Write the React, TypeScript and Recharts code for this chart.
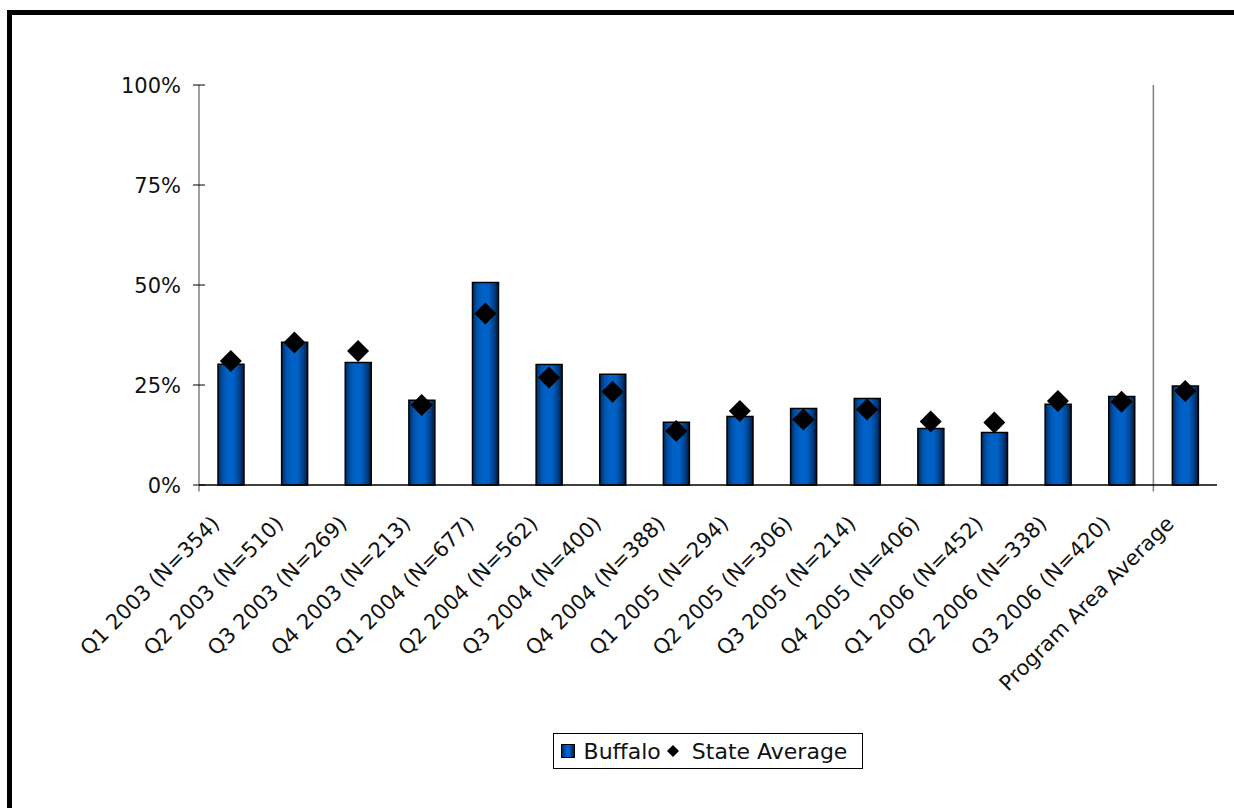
import React from 'react';
import { ComposedChart, Bar, Line, XAxis, YAxis, ReferenceLine, Legend } from 'recharts';

const quarters = [
  'Q1 2003 (N=354)',
  'Q2 2003 (N=510)',
  'Q3 2003 (N=269)',
  'Q4 2003 (N=213)',
  'Q1 2004 (N=677)',
  'Q2 2004 (N=562)',
  'Q3 2004 (N=400)',
  'Q4 2004 (N=388)',
  'Q1 2005 (N=294)',
  'Q2 2005 (N=306)',
  'Q3 2005 (N=214)',
  'Q4 2005 (N=406)',
  'Q1 2006 (N=452)',
  'Q2 2006 (N=338)',
  'Q3 2006 (N=420)',
  'Program Area Average',
];

const buffalo = [0.302, 0.357, 0.306, 0.212, 0.506, 0.301, 0.277, 0.157, 0.171, 0.191, 0.216, 0.141, 0.131, 0.202, 0.221, 0.2475];
const stateAverage = [0.31, 0.356, 0.335, 0.2, 0.429, 0.269, 0.233, 0.135, 0.185, 0.164, 0.189, 0.159, 0.156, 0.21, 0.208, 0.235];

const yTicks = [0, 0.25, 0.5, 0.75, 1];

const data = quarters.map((q, i) => ({ name: q, buffalo: buffalo[i], state: stateAverage[i] }));

const FONT = '"DejaVu Sans", Verdana, sans-serif';

function XTick(props: any) {
  const { x, y, payload } = props;
  return (
    <g transform={`translate(${x - 10},${y + 40})`}>
      <text x={0} y={0} textAnchor="end" transform="rotate(-45)" fontSize={21} fontFamily={FONT} fill="#111">
        {payload.value}
      </text>
    </g>
  );
}

function YTick(props: any) {
  const { x, y, payload } = props;
  return (
    <g>
      <line x1={x - 6} x2={x + 6} y1={y} y2={y} stroke="#000" strokeWidth={1} />
      <text x={x - 18} y={y + 8} textAnchor="end" fontSize={21} fontFamily={FONT} fill="#111">
        {Math.round(payload.value * 100)}%
      </text>
    </g>
  );
}

function Diamond(props: any) {
  const { cx, cy } = props;
  if (cx == null || cy == null) return null;
  const r = 11;
  return <path d={`M${cx},${cy - r}L${cx + r},${cy}L${cx},${cy + r}L${cx - r},${cy}Z`} fill="#000" />;
}

function LegendBox() {
  return (
    <div style={{ display: 'flex', justifyContent: 'center' }}>
      <div
        style={{
          display: 'flex',
          alignItems: 'center',
          border: '1px solid #000',
          height: 36,
          boxSizing: 'border-box',
          padding: '0 15px 0 7px',
          fontFamily: FONT,
          fontSize: 22,
          color: '#111',
          background: '#fff',
        }}
      >
        <span
          style={{
            display: 'inline-block',
            width: 12,
            height: 12,
            border: '1px solid #000',
            background: 'linear-gradient(90deg, #00306a, #0062c8 40%, #0062c8 60%, #001a40)',
            marginRight: 9,
          }}
        />
        <span>Buffalo</span>
        <svg width={14} height={14} style={{ marginLeft: 5, marginRight: 12 }}>
          <path d="M7,1L13,7L7,13L1,7Z" fill="#000" />
        </svg>
        <span>State Average</span>
      </div>
    </div>
  );
}

export default function App() {
  const first = quarters[0];
  const last = quarters[quarters.length - 1];
  return (
    <div style={{ position: 'absolute', left: 0, top: 0, width: 1234, height: 808, background: '#fff' }}>
      <div
        style={{
          position: 'absolute',
          left: 7,
          top: 10,
          width: 1227,
          height: 798,
          boxSizing: 'border-box',
          borderLeft: '5px solid #000',
          borderTop: '5px solid #000',
        }}
      />
      <div style={{ position: 'absolute', left: 0, top: 0 }}>
        <ComposedChart width={1234} height={808} data={data} margin={{ top: 85, right: 17, left: 0, bottom: 0 }}>
          <defs>
            <linearGradient id="barGrad" x1="0" y1="0" x2="1" y2="0">
              <stop offset="0%" stopColor="#002a5c" />
              <stop offset="18%" stopColor="#0052aa" />
              <stop offset="38%" stopColor="#0062c8" />
              <stop offset="62%" stopColor="#0060c4" />
              <stop offset="85%" stopColor="#003c82" />
              <stop offset="100%" stopColor="#001632" />
            </linearGradient>
          </defs>
          <XAxis
            dataKey="name"
            interval={0}
            height={323}
            tickLine={false}
            tickSize={0}
            tickMargin={0}
            axisLine={{ stroke: '#000', strokeWidth: 1.5 }}
            tick={(p: any) => <XTick {...p} />}
          />
          <YAxis
            domain={[0, 1]}
            ticks={yTicks}
            interval={0}
            width={199}
            axisLine={false}
            tickLine={false}
            tickSize={0}
            tickMargin={0}
            tick={(p: any) => <YTick {...p} />}
          />
          {/* y axis line, running a little below zero */}
          <ReferenceLine
            segment={[{ x: first, y: -0.016 }, { x: first, y: 1 }]}
            position="start"
            stroke="#808080"
            strokeWidth={1.5}
            ifOverflow="visible"
          />
          {/* separator before the program area average column */}
          <ReferenceLine
            segment={[{ x: last, y: -0.016 }, { x: last, y: 1 }]}
            position="start"
            stroke="#808080"
            strokeWidth={1.5}
            ifOverflow="visible"
          />
          <Bar
            dataKey="buffalo"
            name="Buffalo"
            barSize={26}
            fill="url(#barGrad)"
            stroke="#000"
            strokeWidth={1.5}
            isAnimationActive={false}
          />
          <Line
            dataKey="state"
            name="State Average"
            stroke="none"
            dot={(p: any) => <Diamond key={p.index} {...p} />}
            activeDot={false}
            isAnimationActive={false}
          />
          <Legend
            verticalAlign="middle"
            align="center"
            wrapperStyle={{ left: 199, width: 1018, top: 733 }}
            content={() => <LegendBox />}
          />
        </ComposedChart>
      </div>
    </div>
  );
}
